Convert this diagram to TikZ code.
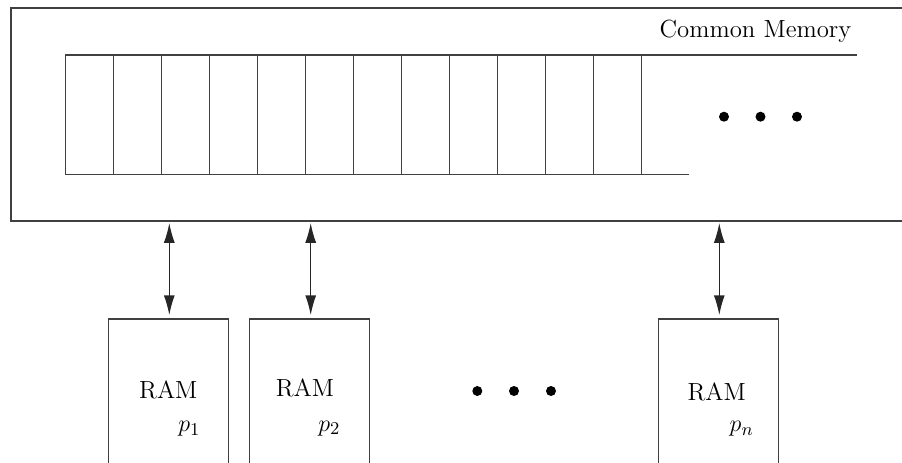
\documentclass[tikz,border=0pt]{standalone}
\usetikzlibrary{arrows.meta}
\begin{document}
\begin{tikzpicture}[x=0.5pt,y=-0.5pt,
  line width=0.75pt,
  lbl/.style={font=\fontsize{12.4}{14}\selectfont, inner sep=0pt},
  rambox/.style={draw=black!75, anchor=north, minimum width=60pt, minimum height=85pt, inner sep=0pt},
  membox/.style={draw=black!75, anchor=north west, minimum width=460pt, minimum height=106.5pt, inner sep=0pt},
  cell/.style={draw=black!75},
  link/.style={{Latex[length=10pt,width=5.5pt]}-{Latex[length=10pt,width=5.5pt]}, draw=black!85, shorten <=1.4pt, shorten >=1.5pt},
  dot/.style={fill=black}
]
\useasboundingbox (0,0) rectangle (902,462);
\clip (0,0) rectangle (902,462);
% memory box
\node[membox] (mem) at (10,7) {};
\node[lbl, anchor=base east] (cm) at (852,37) {Common Memory};
% cells
\draw[cell] (857,55) -- (65.7,55) -- (65.7,174.5) -- (689,174.5);
\foreach \k in {1,...,12} {
  \draw[cell] (65.7+48*\k,55) -- (65.7+48*\k,174.5);
}
\foreach \x in {724,760.5,797} { \fill[dot] (\x,116.7) circle (5); }
% RAM boxes
\node[rambox] (r1) at (168.3,318.3) {};
\node[rambox] (r2) at (309.7,318.3) {};
\node[rambox] (r3) at (718.3,318.3) {};
\node[lbl, anchor=base] (t1) at (168.3,398.3) {RAM};
\node[lbl, anchor=base] (t2) at (305,396.7) {RAM};
\node[lbl, anchor=base] (t3) at (716.7,400) {RAM};
\node[lbl, anchor=base] (q1) at (189.3,431.7) {$p_1$};
\node[lbl, anchor=base] (q2) at (329.3,431) {$p_2$};
\node[lbl, anchor=base] (q3) at (741.7,431.7) {$p_n$};
\foreach \x in {477.3,514,551} { \fill[dot] (\x,391) circle (5); }
% arrows
\coordinate (a1) at (169.3,220);
\coordinate (a2) at (310.7,220);
\coordinate (a3) at (719.3,220);
\draw[link] (a1) -- (a1 |- r1.north);
\draw[link] (a2) -- (a2 |- r2.north);
\draw[link] (a3) -- (a3 |- r3.north);
\end{tikzpicture}
\end{document}
